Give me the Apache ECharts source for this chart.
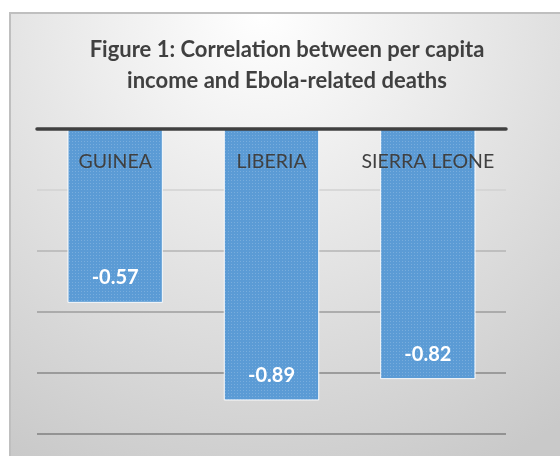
<!DOCTYPE html>
<html>
<head>
<meta charset="utf-8">
<script src="https://cdn.jsdelivr.net/npm/echarts@6/dist/echarts.min.js"></script>
<style>
  html, body { margin: 0; padding: 0; background: #fff; }
  #chart { width: 560px; height: 456px; }
</style>
</head>
<body>
<div id="chart"></div>
<script>
const countries = ["GUINEA", "LIBERIA", "SIERRA LEONE"]
const correlation = [-0.57, -0.89, -0.82]
const yTicks = [-1.0, -0.8, -0.6, -0.4, -0.2, 0]

const myChart = echarts.init(document.getElementById("chart"))

let option = {
  animation: false,
  graphic: [
    {
      type: "rect",
      z: -10,
      shape: { x: 10, y: 13, width: 560, height: 460 },
      style: {
        fill: {
          type: "radial",
          x: 0.45,
          y: 0,
          r: 1.1,
          colorStops: [
            { offset: 0, color: "#ffffff" },
            { offset: 1, color: "#c9c9c9" }
          ]
        },
        stroke: "#bfbfbf",
        lineWidth: 2
      }
    }
  ],
  title: {
    text: "Figure 1: Correlation between per capita\nincome and Ebola-related deaths",
    left: 282,
    top: 29,
    textAlign: "center",
    textStyle: {
      fontFamily: "Lato",
      fontWeight: "bold",
      fontSize: 22,
      lineHeight: 31,
      color: "#404040"
    }
  },
  grid: {
    left: 37,
    right: 54,
    top: 129,
    bottom: 22
  },
  xAxis: {
    type: "category",
    position: "top",
    data: countries,
    axisTick: { show: false },
    axisLine: { lineStyle: { color: "#404040", width: 3.5 } },
    axisLabel: {
      inside: true,
      interval: 0,
      margin: 23,
      fontFamily: "Lato",
      fontSize: 19.5,
      color: "#404040"
    },
    z: 5
  },
  yAxis: {
    type: "value",
    min: yTicks[0],
    max: yTicks[yTicks.length - 1],
    interval: 0.2,
    axisLabel: { show: false },
    axisLine: { show: false },
    axisTick: { show: false },
    splitLine: {
      lineStyle: {
        color: ["#7f7f7f", "#888888", "#9c9c9c", "#b4b4b4", "#d2d2d2", "#404040"],
        width: 1.6
      }
    }
  },
  series: [
    {
      type: "bar",
      data: correlation,
      barCategoryGap: "39%",
      itemStyle: {
        color: "#5b9bd5",
        borderColor: "rgba(255,255,255,0.6)",
        borderWidth: 1,
        decal: {
          symbol: "rect",
          symbolSize: 1,
          color: "rgba(255,255,255,0.18)",
          dashArrayX: [1, 2],
          dashArrayY: [1, 2],
          rotation: 0
        }
      },
      label: {
        show: true,
        position: "insideBottom",
        distance: 15,
        formatter: (p) => p.value.toFixed(2),
        fontFamily: "Lato",
        fontWeight: "bold",
        fontSize: 20,
        color: "#ffffff"
      }
    }
  ]
}

myChart.setOption(option)
</script>
</body>
</html>
